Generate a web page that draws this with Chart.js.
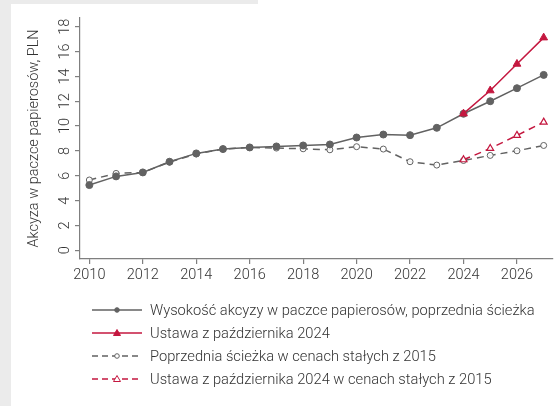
<!DOCTYPE html>
<html>
<head>
<meta charset="utf-8">
<script src="https://cdn.jsdelivr.net/npm/chart.js@4"></script>
<style>
  html, body { margin:0; padding:0; background:#ffffff; }
  #wrap { position:relative; width:558px; height:406px; overflow:hidden; font-family: Roboto, "Noto Sans", sans-serif; }
  .bgL { position:absolute; left:0; top:0; width:11px; height:406px; background:#ebebeb; }
  .bgT { position:absolute; left:0; top:0; width:258px; height:4px; background:#ebebeb; }
  canvas { position:absolute; left:0; top:0; }
  #legend { position:absolute; left:91px; top:298px; }
  .row { height:23px; display:flex; align-items:center; }
  .row svg { width:52px; height:14px; margin-right:7px; flex:none; }
  .row span { font-size:14.7px; font-weight:300; color:#333; white-space:nowrap; }
</style>
</head>
<body>
<div id="wrap">
  <div class="bgL"></div>
  <div class="bgT"></div>
  <canvas id="c" width="558" height="406"></canvas>
  <div id="legend"></div>
</div>
<script>
// ---- data ----
const years = [2010,2011,2012,2013,2014,2015,2016,2017,2018,2019,2020,2021,2022,2023,2024,2025,2026,2027];
const nominalPrev = [5.25,5.95,6.27,7.13,7.80,8.15,8.28,8.36,8.44,8.52,9.08,9.32,9.27,9.86,10.99,12.00,13.05,14.12];
const nominalAct  = [null,null,null,null,null,null,null,null,null,null,null,null,null,null,11.00,12.86,15.00,17.12];
const realPrev    = [5.66,6.19,6.27,7.10,7.75,8.15,8.28,8.23,8.17,8.09,8.34,8.15,7.13,6.86,7.23,7.64,8.01,8.44];
const realAct     = [null,null,null,null,null,null,null,null,null,null,null,null,null,null,7.29,8.20,9.25,10.32];
const xTicks = [2010,2012,2014,2016,2018,2020,2022,2024,2026];
const yTicks = [0,2,4,6,8,10,12,14,16,18];
const seriesNames = [
  'Wysokość akcyzy w paczce papierosów, poprzednia ścieżka',
  'Ustawa z października 2024',
  'Poprzednia ścieżka w cenach stałych z 2015',
  'Ustawa z października 2024 w cenach stałych z 2015'
];
const yTitle = 'Akcyza w paczce papierosów, PLN';

const GRAY = '#626262';
const RED = '#c4173f';
const AXIS = '#7f7f7f';
const TXT = '#333333';

const pts = arr => years.map((y,i)=>({x:y, y:arr[i]})).filter(p=>p.y!==null);

const datasets = [
  { label: seriesNames[0], data: pts(nominalPrev), borderColor: GRAY, backgroundColor: GRAY, borderWidth:1.5,
    pointStyle:'circle', pointRadius:3.5, pointBorderWidth:1, pointBackgroundColor:GRAY, order:2 },
  { label: seriesNames[1], data: pts(nominalAct), borderColor: RED, backgroundColor: RED, borderWidth:1.5,
    pointStyle:'triangle', pointRadius:4.5, pointBorderWidth:1, pointBackgroundColor:RED, order:1 },
  { label: seriesNames[2], data: pts(realPrev), borderColor: GRAY, backgroundColor:'#ffffff', borderWidth:1.5, borderDash:[7,5],
    pointStyle:'circle', pointRadius:3, pointBorderWidth:1, pointBackgroundColor:'rgba(255,255,255,0.9)', order:4 },
  { label: seriesNames[3], data: pts(realAct), borderColor: RED, backgroundColor:'#ffffff', borderWidth:1.5, borderDash:[7,5],
    pointStyle:'triangle', pointRadius:4, pointBorderWidth:1.2, pointBackgroundColor:'#ffffff', order:3 }
];

const font = { family: 'Roboto, "Noto Sans", sans-serif', size: 14.5, weight: '300' };

new Chart(document.getElementById('c'), {
  type: 'line',
  data: { datasets },
  options: {
    responsive: false,
    animation: false,
    events: [],
    layout: { padding: { left: 22, top: 18, right: 3, bottom: 107 } },
    plugins: { legend: { display:false }, tooltip: { enabled:false } },
    elements: { line: { tension: 0 } },
    scales: {
      x: {
        type: 'linear', min: 2009.65, max: 2027.33,
        afterBuildTicks: s => { s.ticks = xTicks.map(v => ({ value: v })); },
        afterFit: s => { s.height = 40; },
        grid: { display:true, drawOnChartArea:false, drawTicks:true, tickLength:5, color:AXIS, lineWidth:1.2 },
        border: { display:true, color:AXIS, width:1.2 },
        ticks: { color: TXT, font, padding: 3, maxRotation:0, autoSkip:false, callback: v => String(v) }
      },
      y: {
        type: 'linear', min: -0.7, max: 18.7,
        afterBuildTicks: s => { s.ticks = yTicks.map(v => ({ value: v })); },
        afterFit: s => { s.width = 58; },
        grid: { display:true, drawOnChartArea:false, drawTicks:true, tickLength:5, color:AXIS, lineWidth:1.2 },
        border: { display:true, color:AXIS, width:1.2 },
        ticks: { color: TXT, font, padding: 2, minRotation:90, maxRotation:90, crossAlign:'center', autoSkip:false, callback: v => String(v) },
        title: { display:true, text: yTitle, color: TXT, font, padding: { top: 4, bottom: 4 } }
      }
    }
  }
});

// ---- legend ----
const legendDefs = [
  { color: GRAY, dash: '', marker: 'circle', fill: GRAY },
  { color: RED, dash: '', marker: 'tri', fill: RED },
  { color: GRAY, dash: '6,4', marker: 'circle', fill: '#ffffff' },
  { color: RED, dash: '6,4', marker: 'tri', fill: '#ffffff' }
];
const leg = document.getElementById('legend');
legendDefs.forEach((d, i) => {
  const row = document.createElement('div');
  row.className = 'row';
  const m = d.marker === 'circle'
    ? `<circle cx="26" cy="7" r="2.3" fill="${d.fill}" stroke="${d.color}" stroke-width="1"/>`
    : `<polygon points="26,3.5 29.5,9.5 22.5,9.5" fill="${d.fill}" stroke="${d.color}" stroke-width="1"/>`;
  row.innerHTML = `<svg viewBox="0 0 52 14"><line x1="1" y1="7" x2="51" y2="7" stroke="${d.color}" stroke-width="1.3" ${d.dash ? `stroke-dasharray="${d.dash}"` : ''}/>${m}</svg><span>${seriesNames[i]}</span>`;
  leg.appendChild(row);
});
</script>
</body>
</html>
